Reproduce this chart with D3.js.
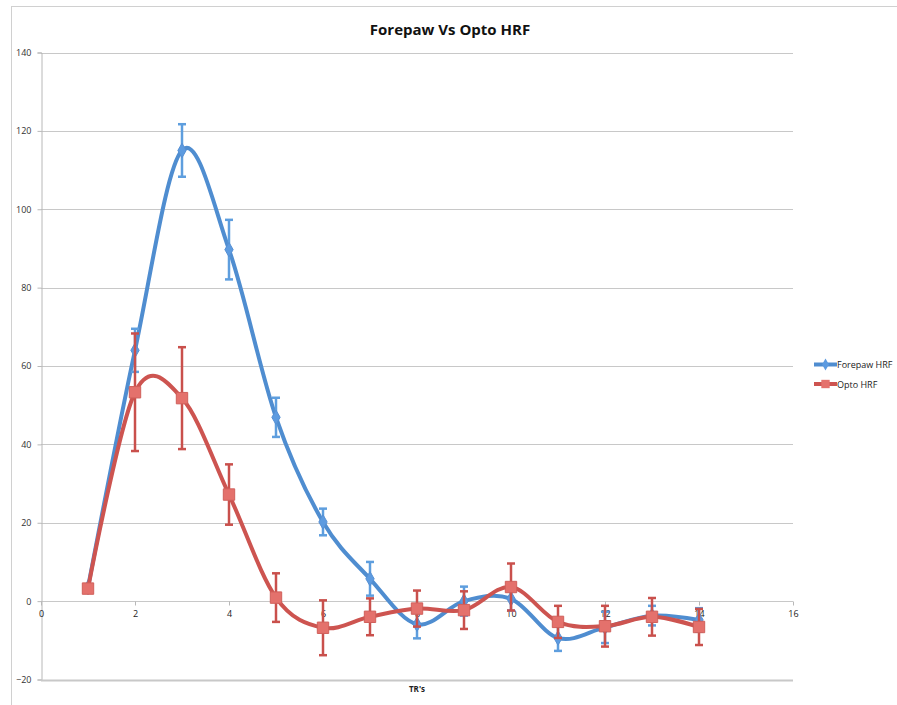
<!DOCTYPE html>
<html>
<head>
<meta charset="utf-8">
<script src="https://cdn.jsdelivr.net/npm/d3@7"></script>
<style>
  html, body { margin: 0; padding: 0; background: #fff; }
  svg { display: block; font-family: "Open Sans", "Liberation Sans", Arial, sans-serif; }
</style>
</head>
<body>
<svg id="chart" width="897" height="705"></svg>
<script>
// Time points (TR index)
const trs = [1, 2, 3, 4, 5, 6, 7, 8, 9, 10, 11, 12, 13, 14];

// Forepaw stimulation response and its error
const forepaw = [3.5, 64, 115, 89.7, 46.9, 20.2, 5.7, -5.9, 0, 0.6, -9.4, -6.7, -3.7, -4.8];
const forepawErr = [0, 5.5, 6.7, 7.6, 5, 3.4, 4.3, 3.6, 3.7, 3, 3.3, 4, 2.5, 3];

// Optogenetic stimulation response and its error
const opto = [3.2, 53.3, 51.8, 27.2, 0.9, -6.8, -4.0, -1.9, -2.3, 3.6, -5.3, -6.4, -4.0, -6.6];
const optoErr = [0, 15, 13, 7.7, 6.2, 7, 4.7, 4.6, 4.8, 6, 4.1, 5.2, 4.8, 4.6];

// Axis ticks
const xTicks = [0, 2, 4, 6, 8, 10, 12, 14, 16];
const yTicks = [-20, 0, 20, 40, 60, 80, 100, 120, 140];

const svg = d3.select("#chart");

// Chart area frame
svg.append("rect")
  .attr("x", 11.5).attr("y", 6.5)
  .attr("width", 900).attr("height", 720)
  .attr("fill", "none").attr("stroke", "#d0d0d0").attr("stroke-width", 1);

const plotLeft = 41, plotRight = 793, plotTop = 52.5, plotBottom = 679.5;
const x = d3.scaleLinear().domain([0, 16]).range([plotLeft, plotRight]);
const y = d3.scaleLinear().domain([-20, 140]).range([plotBottom, plotTop]);

// Horizontal gridlines
svg.append("g").selectAll("line")
  .data(yTicks.filter(v => v !== -20))
  .join("line")
  .attr("x1", plotLeft).attr("x2", plotRight)
  .attr("y1", d => Math.round(y(d)) + 0.5).attr("y2", d => Math.round(y(d)) + 0.5)
  .attr("stroke", "#c8c8c8").attr("stroke-width", 1);

// Y axis
const yAxis = d3.axisLeft(y).tickValues(yTicks).tickSize(4).tickPadding(6)
  .tickFormat(d3.format("d"));
const gy = svg.append("g").attr("transform", `translate(${plotLeft + 0.5},0)`).call(yAxis);
gy.select(".domain").attr("stroke", "#b8b8b8");
gy.selectAll(".tick line").attr("stroke", "#b8b8b8");
gy.selectAll("text").attr("fill", "#333").attr("font-size", 9)
  .attr("font-family", "'Open Sans', 'Liberation Sans', Arial, sans-serif");

// Bottom border of the plot at the axis minimum
svg.append("line")
  .attr("x1", plotLeft).attr("x2", plotRight)
  .attr("y1", Math.round(y(-20)) + 0.5).attr("y2", Math.round(y(-20)) + 0.5)
  .attr("stroke", "#c8c8c8").attr("stroke-width", 2);

// X axis sits on the zero line
const xAxis = d3.axisBottom(x).tickValues(xTicks).tickSize(4).tickPadding(5)
  .tickFormat(d3.format("d"));
const gx = svg.append("g").attr("transform", `translate(0,${Math.round(y(0)) + 0.5})`).call(xAxis);
gx.select(".domain").remove();
gx.selectAll(".tick line").attr("stroke", "#b8b8b8");
gx.selectAll("text").attr("fill", "#222").attr("font-size", 9)
  .attr("font-family", "'Open Sans', 'Liberation Sans', Arial, sans-serif");

// Title and axis label
svg.append("text")
  .attr("x", 450).attr("y", 35).attr("text-anchor", "middle")
  .attr("font-size", 15).attr("font-weight", "bold").attr("fill", "#111")
  .text("Forepaw Vs Opto HRF");

svg.append("text")
  .attr("x", 417).attr("y", 692).attr("text-anchor", "middle")
  .attr("font-size", 8).attr("font-weight", "bold").attr("fill", "#222")
  .text("TR's");

const line = d3.line().curve(d3.curveCardinal.tension(0))
  .x(d => x(d[0])).y(d => y(d[1]));

const series = [
  { name: "Forepaw HRF", values: forepaw, errs: forepawErr, line: "#4f8dd0", bar: "#5e9ede", marker: "diamond", fill: "#5d9be0" },
  { name: "Opto HRF", values: opto, errs: optoErr, line: "#cd5450", bar: "#c9504c", marker: "square", fill: "#e4716c" }
];

series.forEach(s => {
  const pts = trs.map((t, i) => [t, s.values[i], s.errs[i]]);
  const g = svg.append("g");

  g.append("path").datum(pts)
    .attr("d", line).attr("fill", "none")
    .attr("stroke", s.line).attr("stroke-width", 4).attr("stroke-linejoin", "round");

  // Error bars with caps
  const eb = g.append("g").selectAll("g").data(pts.filter(d => d[2] > 0)).join("g");
  eb.append("line")
    .attr("x1", d => x(d[0])).attr("x2", d => x(d[0]))
    .attr("y1", d => y(d[1] + d[2])).attr("y2", d => y(d[1] - d[2]))
    .attr("stroke", s.bar).attr("stroke-width", 2.5);
  [1, -1].forEach(sign => {
    eb.append("line")
      .attr("x1", d => x(d[0]) - 4).attr("x2", d => x(d[0]) + 4)
      .attr("y1", d => y(d[1] + sign * d[2])).attr("y2", d => y(d[1] + sign * d[2]))
      .attr("stroke", s.bar).attr("stroke-width", 2.5);
  });

  // Markers
  const sym = s.marker === "diamond"
    ? d3.symbol().type(d3.symbolDiamond).size(60)
    : d3.symbol().type(d3.symbolSquare).size(130);
  g.append("g").selectAll("path").data(pts).join("path")
    .attr("transform", d => `translate(${x(d[0])},${y(d[1])})`)
    .attr("d", sym)
    .attr("fill", s.fill)
    .attr("stroke", s.marker === "diamond" ? "#5690d4" : "#d0605b")
    .attr("stroke-width", 1);
});

// Legend
const legend = svg.append("g");
series.forEach((s, i) => {
  const ly = 364.5 + i * 19.5;
  legend.append("line")
    .attr("x1", 814).attr("x2", 837).attr("y1", ly).attr("y2", ly)
    .attr("stroke", s.line).attr("stroke-width", 4);
  const sym = s.marker === "diamond"
    ? d3.symbol().type(d3.symbolDiamond).size(40)
    : d3.symbol().type(d3.symbolSquare).size(70);
  legend.append("path")
    .attr("transform", `translate(825.5,${ly})`)
    .attr("d", sym).attr("fill", s.fill);
  legend.append("text")
    .attr("x", 837).attr("y", ly + 3.5)
    .attr("font-size", 9).attr("fill", "#222")
    .text(s.name);
});
</script>
</body>
</html>
